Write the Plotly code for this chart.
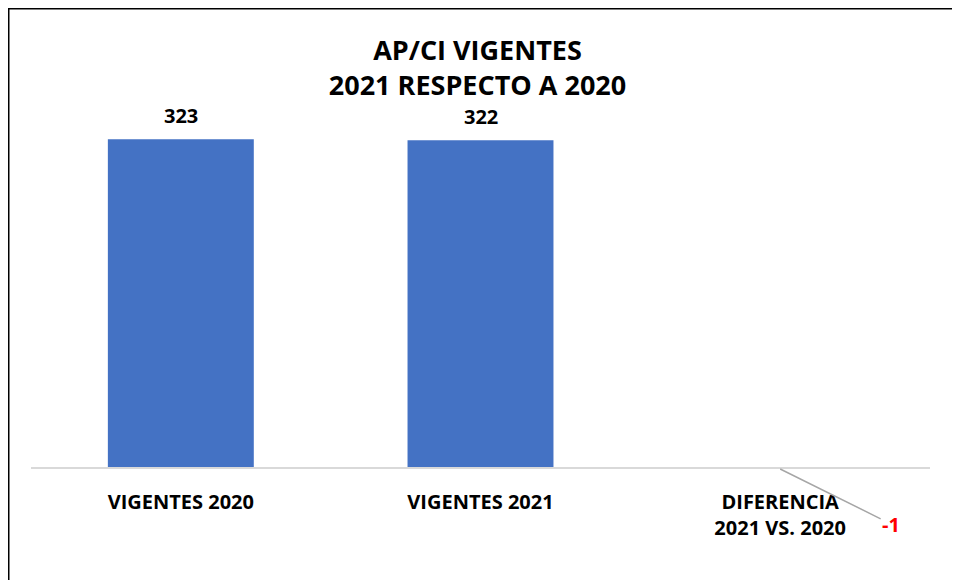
import plotly.graph_objects as go

categories = ["VIGENTES 2020", "VIGENTES 2021", "DIFERENCIA<br>2021 VS. 2020"]
values = [323, 322, -1]
title_lines = ["AP/CI VIGENTES", "2021 RESPECTO A 2020"]

BAR = "#4472C4"
FONT = "Open Sans"

W, H = 960, 580
L, R, T, B = 23, 38, 80, 118
pw, ph = W - L - R, H - T - B

fig = go.Figure()
fig.add_trace(go.Bar(
    x=categories, y=values,
    marker=dict(color=BAR, line=dict(width=0)),
    cliponaxis=False,
    width=0.487,
))

# value labels above positive bars
for c, v in zip(categories, values):
    if v >= 0:
        fig.add_annotation(x=c, y=v, text="<b>%d</b>" % v, showarrow=False,
                           yanchor="bottom", yshift=8,
                           font=dict(family=FONT, size=20, color="#000000"))

# red label for negative difference with leader line
neg_idx = 2
fig.add_annotation(
    x=categories[neg_idx], y=values[neg_idx],
    text="<b>%d</b>" % values[neg_idx],
    font=dict(family=FONT, size=20, color="#FF0000"),
    showarrow=True, arrowhead=0, arrowwidth=1.5, arrowcolor="#A6A6A6",
    ax=111, ay=55, standoff=0,
)

def px_to_paper_x(px):
    return (px - L) / pw

def py_to_paper_y(py):
    return (H - B - py) / ph

# zero line drawn above bars
fig.add_shape(type="line", xref="paper", yref="y", x0=0, x1=1, y0=0, y1=0,
              line=dict(color="#D9D9D9", width=2), layer="above")

# outer black frame (extends past right/bottom edges of picture)
fig.add_shape(type="rect", xref="paper", yref="paper",
              x0=px_to_paper_x(0), x1=px_to_paper_x(990),
              y0=py_to_paper_y(600), y1=py_to_paper_y(0),
              line=dict(color="#000000", width=3), fillcolor="rgba(0,0,0,0)",
              layer="above")

fig.update_layout(
    width=W, height=H,
    margin=dict(l=L, r=R, t=T, b=B, pad=0),
    paper_bgcolor="white", plot_bgcolor="white",
    showlegend=False,
    title=dict(text="<b>" + "<br>".join(title_lines) + "</b>",
               x=(L + pw / 2 - 3) / W, xanchor="center", y=1 - 52 / H, yanchor="middle",
               font=dict(family=FONT, size=27, color="#000000")),
    bargap=0.513,
)
fig.update_xaxes(
    showgrid=False, showline=False, zeroline=False,
    ticks="outside", ticklen=14, tickcolor="rgba(0,0,0,0)",
    tickfont=dict(family=FONT, size=20, color="#000000", weight="bold"),
    range=[-0.5, 2.5],
)
fig.update_yaxes(
    showgrid=False, showticklabels=False, showline=False,
    zeroline=False,
    range=[-1.98, 373.4],
)

fig.write_html("out.html")
